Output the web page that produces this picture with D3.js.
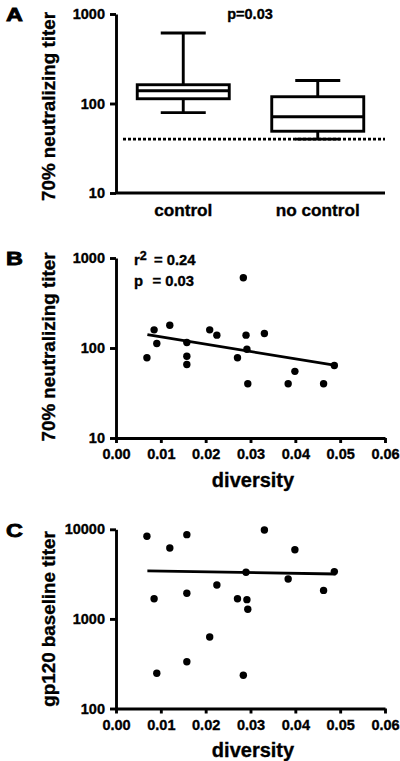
<!DOCTYPE html>
<html>
<head>
<meta charset="utf-8">
<script src="https://cdn.jsdelivr.net/npm/d3@7"></script>
<style>
  html, body { margin: 0; padding: 0; background: #fff; }
  svg { display: block; }
  text { font-family: Arial, "Liberation Sans", Helvetica, sans-serif; font-weight: bold; fill: #000; stroke: #000; stroke-width: 0.35px; }
</style>
</head>
<body>
<svg id="chart" width="400" height="761"></svg>
<script>
// ---------- DATA ----------
const categories = ["control", "no control"];
// box stats: [lowWhisker, q1, median, q3, highWhisker]
const boxControl   = [79, 113, 139, 162, 614];
const boxNoControl = [40, 49, 71, 119, 181];
const detectionLimit = 40;
const pValueA = "p=0.03";

const diversity = [0.0069, 0.0085, 0.0091, 0.0120, 0.0158, 0.0158, 0.0158, 0.0209, 0.0225, 0.0271,
                   0.0284, 0.0290, 0.0292, 0.0294, 0.0331, 0.0384, 0.0399, 0.0463, 0.0487];
const neutTiter = [78, 159, 112, 179, 115, 81, 65.5, 159, 139, 78,
                   603, 139, 97, 40, 145, 40, 55, 40, 64];
const gp120Titer = [8350, 1680, 247, 6180, 8710, 1930, 333, 628, 2390, 1680,
                    235, 3310, 1640, 1280, 9820, 2790, 5910, 2080, 3370];

const fitX = [0.007, 0.049];
const fitB = [141, 64];
const fitC = [3430, 3170];

const xTicks = [0, 0.01, 0.02, 0.03, 0.04, 0.05, 0.06];
const yTicksA = [10, 100, 1000];
const yTicksB = [10, 100, 1000];
const yTicksC = [100, 1000, 10000];

// ---------- DRAW ----------
const svg = d3.select("#chart");
const AX = 116, AXR = 385;
const SW = 2.9;

function styleAxis(g) {
  g.select(".domain").attr("stroke", "#000").attr("stroke-width", SW);
  g.selectAll(".tick line").attr("stroke", "#000").attr("stroke-width", SW);
  g.selectAll(".tick text").style("font-size", "14.5px").style("font-weight", "bold")
    .style("font-family", "Arial, 'Liberation Sans', sans-serif").attr("fill", "#000");
}

function yLabel(text, cy) {
  svg.append("text")
    .attr("transform", `translate(55,${cy}) rotate(-90)`)
    .attr("text-anchor", "middle")
    .style("font-size", "18.8px")
    .text(text);
}

function panelLetter(letter, x, y) {
  svg.append("text")
    .attr("transform", `translate(${x},${y}) scale(1.3,1)`)
    .style("font-size", "18px")
    .style("stroke-width", "0.8px")
    .text(letter);
}

// ===== Panel A =====
{
  const top = 14, bottom = 193;
  const y = d3.scaleLog().domain([10, 1000]).range([bottom, top]);
  const x = d3.scalePoint().domain(categories).range([AX, AXR]).padding(0.5);

  const yAxis = svg.append("g").attr("transform", `translate(${AX},0)`)
    .call(d3.axisLeft(y).tickValues(yTicksA).tickFormat(d3.format("d")).tickSize(6).tickSizeOuter(0).tickPadding(5));
  styleAxis(yAxis);

  svg.append("line").attr("x1", AX).attr("x2", AXR).attr("y1", y(10)).attr("y2", y(10))
    .attr("stroke", "#000").attr("stroke-width", SW);

  categories.forEach(c => {
    svg.append("text").attr("x", x(c)).attr("y", 216).attr("text-anchor", "middle")
      .style("font-size", "17.2px").text(c);
  });

  // detection limit dashed line
  svg.append("line").attr("x1", 123).attr("x2", AXR).attr("y1", y(detectionLimit)).attr("y2", y(detectionLimit))
    .attr("stroke", "#000").attr("stroke-width", 2.7).attr("stroke-dasharray", "3,2");

  const boxes = [boxControl, boxNoControl];
  const boxHalf = 46, capHalf = 22.5;
  boxes.forEach((b, i) => {
    const cx = x(categories[i]);
    const g = svg.append("g").attr("stroke", "#000").attr("stroke-width", SW).attr("fill", "none");
    g.append("line").attr("x1", cx).attr("x2", cx).attr("y1", y(b[4])).attr("y2", y(b[3]));
    g.append("line").attr("x1", cx).attr("x2", cx).attr("y1", y(b[1])).attr("y2", y(b[0]));
    g.append("line").attr("x1", cx - capHalf).attr("x2", cx + capHalf).attr("y1", y(b[4])).attr("y2", y(b[4]));
    g.append("line").attr("x1", cx - capHalf).attr("x2", cx + capHalf).attr("y1", y(b[0])).attr("y2", y(b[0]));
    g.append("rect").attr("x", cx - boxHalf).attr("y", y(b[3])).attr("width", 2 * boxHalf)
      .attr("height", y(b[1]) - y(b[3])).attr("fill", "#fff");
    g.append("line").attr("x1", cx - boxHalf).attr("x2", cx + boxHalf).attr("y1", y(b[2])).attr("y2", y(b[2]));
  });

  svg.append("text").attr("x", 250).attr("y", 18.5).attr("text-anchor", "middle")
    .style("font-size", "14.5px").text(pValueA);

  yLabel("70% neutralizing titer", 106.5);
  panelLetter("A", 6, 21);
}

// ===== Scatter panels =====
function scatterPanel(opts) {
  const { top, bottom, domain, ticks, values, fit, label, labelCy, letter, letterY } = opts;
  const x = d3.scaleLinear().domain([0, 0.06]).range([AX, AXR]);
  const y = d3.scaleLog().domain(domain).range([bottom, top]);

  const yAxis = svg.append("g").attr("transform", `translate(${AX},0)`)
    .call(d3.axisLeft(y).tickValues(ticks).tickFormat(d3.format("d")).tickSize(6).tickSizeOuter(0).tickPadding(5));
  styleAxis(yAxis);

  const xAxis = svg.append("g").attr("transform", `translate(0,${bottom})`)
    .call(d3.axisBottom(x).tickValues(xTicks).tickFormat(d3.format(".2f")).tickSize(5).tickSizeOuter(0).tickPadding(6));
  styleAxis(xAxis);

  svg.append("text").attr("x", 253).attr("y", bottom + 48.5).attr("text-anchor", "middle")
    .style("font-size", "20px").text("diversity");

  svg.append("line")
    .attr("x1", x(fitX[0])).attr("y1", y(fit[0]))
    .attr("x2", x(fitX[1])).attr("y2", y(fit[1]))
    .attr("stroke", "#000").attr("stroke-width", 2.8);

  svg.append("g").selectAll("circle").data(diversity).join("circle")
    .attr("cx", d => x(d)).attr("cy", (d, i) => y(values[i])).attr("r", 3.7).attr("fill", "#000");

  yLabel(label, labelCy);
  panelLetter(letter, 6, letterY);
}

scatterPanel({
  top: 258, bottom: 438, domain: [10, 1000], ticks: yTicksB, values: neutTiter, fit: fitB,
  label: "70% neutralizing titer", labelCy: 347, letter: "B", letterY: 265
});

// r2 / p annotation for B
{
  const t1 = svg.append("text").attr("x", 134).attr("y", 265).style("font-size", "14.8px");
  t1.append("tspan").text("r");
  t1.append("tspan").attr("dy", -5).style("font-size", "12.5px").text("2");
  t1.append("tspan").attr("x", 154).attr("dy", 5).text("= 0.24");
  const t2 = svg.append("text").attr("x", 134).attr("y", 286).style("font-size", "14.8px");
  t2.append("tspan").text("p");
  t2.append("tspan").attr("x", 152.5).text("= 0.03");
}

scatterPanel({
  top: 529.3, bottom: 708.5, domain: [100, 10000], ticks: yTicksC, values: gp120Titer, fit: fitC,
  label: "gp120 baseline titer", labelCy: 619, letter: "C", letterY: 537
});
</script>
</body>
</html>
